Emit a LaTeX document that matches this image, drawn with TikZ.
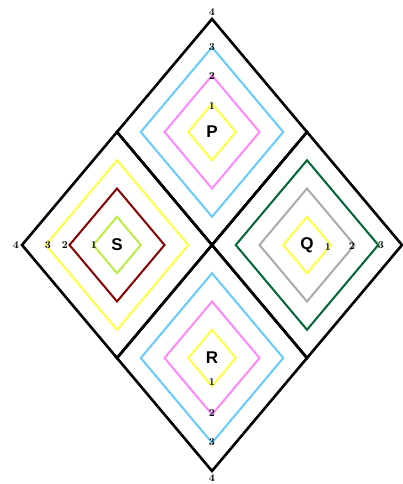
\documentclass[tikz,border=0pt]{standalone}
\usepackage{fontspec}
\usepackage{xcolor}
\newfontfamily\lettfont{Liberation Sans}
\definecolor{skyline}{HTML}{66CCFF}
\definecolor{pinkline}{HTML}{FF88FF}
\definecolor{yelline}{HTML}{FFFF44}
\definecolor{limeline}{HTML}{BBEE44}
\definecolor{maroonline}{HTML}{880000}
\definecolor{pineline}{HTML}{006633}
\definecolor{greyline}{HTML}{AAAAAA}
\newcommand{\rhomb}[3]{% centre, size factor, colour
  \draw[#3, shift={(#1)}] (0,-113*#2) -- (95*#2,0) -- (0,113*#2) -- (-95*#2,0) -- cycle;}

\begin{document}
\begin{tikzpicture}[x=1pt, y=-1pt, line join=miter,
    outer/.style={black, line width=2.6pt},
    inner/.style={line width=2pt},
    num/.style={font=\fontsize{10.5}{10.5}\selectfont\bfseries, inner sep=0pt},
    lett/.style={font=\lettfont\fontsize{17}{17}\selectfont\bfseries, inner sep=0pt}]
    \useasboundingbox (0,0) rectangle (403,484);
    \coordinate (cP) at (212,132);
    \coordinate (cQ) at (307,245);
    \coordinate (cR) at (212,358);
    \coordinate (cS) at (117,245);
    % P
    \rhomb{cP}{0.25}{yelline, inner}
    \rhomb{cP}{0.5}{pinkline, inner}
    \rhomb{cP}{0.75}{skyline, inner}
    % Q
    \rhomb{cQ}{0.25}{yelline, inner}
    \rhomb{cQ}{0.5}{greyline, inner}
    \rhomb{cQ}{0.75}{pineline, inner}
    % R
    \rhomb{cR}{0.25}{yelline, inner}
    \rhomb{cR}{0.5}{pinkline, inner}
    \rhomb{cR}{0.75}{skyline, inner}
    % S
    \rhomb{cS}{0.25}{limeline, inner}
    \rhomb{cS}{0.5}{maroonline, inner}
    \rhomb{cS}{0.75}{yelline, inner}
    % Outer frame
    \foreach \c in {cP,cQ,cR,cS} {\rhomb{\c}{1}{outer}}
    % Letters
    \node[lett] (P) at (cP) {P};
    \node[lett] (Q) at (cQ) {Q};
    \node[lett] (R) at (cR) {R};
    \node[lett] (S) at (cS) {S};
    % Numbers
    \node[num] (p4) at (212,12) {4};
    \node[num] (p3) at (212,47) {3};
    \node[num] (p2) at (212,76) {2};
    \node[num] (p1) at (212,106) {1};
    \node[num] (q1) at (328,247) {1};
    \node[num] (q2) at (352,246) {2};
    \node[num] (q3) at (381,245) {3};
    \node[num] (r1) at (212,382) {1};
    \node[num] (r2) at (212,413) {2};
    \node[num] (r3) at (212,442) {3};
    \node[num] (r4) at (212,478) {4};
    \node[num] (s4) at (16,245) {4};
    \node[num] (s3) at (48,245) {3};
    \node[num] (s2) at (65,245) {2};
    \node[num] (s1) at (94,245) {1};
\end{tikzpicture}
\end{document}
